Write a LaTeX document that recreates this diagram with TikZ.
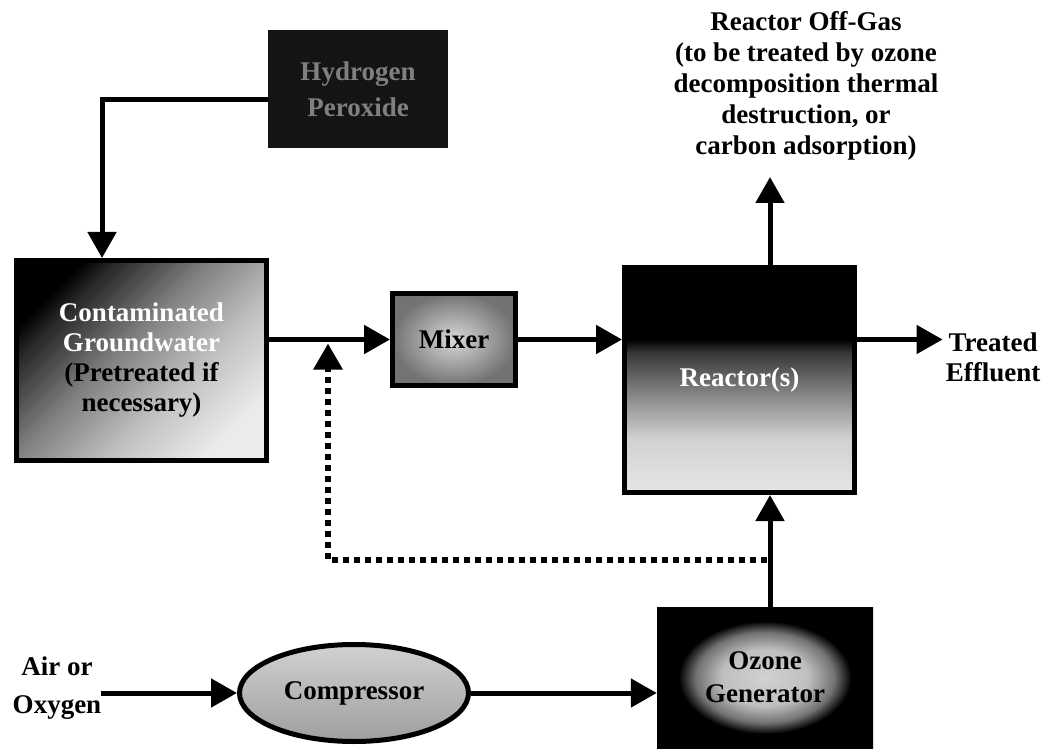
\documentclass[tikz,border=0pt]{standalone}
\usepackage{fontspec}
\setmainfont{Liberation Serif}
\usetikzlibrary{arrows.meta,shapes.geometric,calc}
\pgfdeclareverticalshading{reactorsh}{100bp}{color(0bp)=(black!10); color(25bp)=(black!10); color(37bp)=(black!18); color(46bp)=(black!45); color(56bp)=(black!78); color(59bp)=(black); color(100bp)=(black)}
\pgfdeclareradialshading{ozonesh}{\pgfpoint{0bp}{0bp}}{color(0bp)=(black!18); color(10bp)=(black!25); color(16bp)=(black!55); color(20bp)=(black); color(50bp)=(black)}
\pgfdeclareverticalshading{cgsh}{100bp}{color(0bp)=(black!8); color(25bp)=(black!8); color(40bp)=(black!25); color(55bp)=(black!50); color(70bp)=(black!85); color(75bp)=(black); color(100bp)=(black)}
\begin{document}
\begin{tikzpicture}[x=1pt,y=-1pt,
  every node/.style={font=\bfseries\fontsize{27}{30}\selectfont, align=center, inner sep=0pt},
  box/.style={draw=black, line width=5pt, rectangle},
  arr/.style={line width=5pt, -{Triangle[length=26pt,width=28pt]}},
  dotarr/.style={line width=6pt, dash pattern=on 6pt off 5pt, -{Triangle[length=26pt,width=28pt]}}]
\useasboundingbox (0,0) rectangle (1057,751);
% nodes
\node[fill=black!92, minimum width=180pt, minimum height=118pt, text=black!50] (hp) at (358,89) {Hydrogen\\[6pt]Peroxide};
\node[box, shading=cgsh, shading angle=45, minimum width=250pt, minimum height=200pt] (cg) at (141.5,360.5)
  {\textcolor{white}{Contaminated}\\\textcolor{white}{Groundwater}\\(Pretreated if\\necessary)};
\node[box, inner color=black!15, outer color=black!55, minimum width=123pt, minimum height=92pt] (mx) at (454,339.5) {Mixer};
\node[box, shading=reactorsh, minimum width=230pt, minimum height=225pt, text=white] (rx) at (739.5,380) {Reactor(s)};
\node[shading=ozonesh, minimum width=216pt, minimum height=141pt] (og) at (765,677.5) {Ozone\\[3pt]Generator};
\node[ellipse, draw=black, line width=5pt, top color=black!18, bottom color=black!38, minimum width=229pt, minimum height=97pt] (cp) at (354,693) {Compressor};
\node (air) at (57,688) {Air or\\[8pt]Oxygen};
\node (tr) at (993,357) {Treated\\Effluent};
\node[font=\bfseries\fontsize{27}{31}\selectfont] (gas) at (806,86) {Reactor Off-Gas\\(to be treated by ozone\\decomposition thermal\\destruction, or\\carbon adsorption)};
% coordinates
\coordinate (turn) at (102,100);
\coordinate (vx) at (770,0);
\coordinate (gastip) at (770,177);
\coordinate (dj) at (328,560);
% connectors
\draw[arr] (hp.west |- turn) -- (turn) -- (turn |- cg.north);
\draw[arr] (cg.east |- mx.west) -- (mx.west);
\draw[arr] (mx.east) -- (mx.east -| rx.west);
\draw[arr, shorten >=3pt] (rx.east |- mx.east) -- (tr.west |- mx.east);
\draw[arr] (rx.north -| vx) -- (gastip);
\draw[arr] (og.north -| vx) -- (rx.south -| vx);
\draw[dotarr, shorten >=4pt] ([xshift=-3pt]dj -| vx) -- (dj) -- (dj |- mx.west);
\draw[arr] (air.east |- cp.west) -- (cp.west);
\draw[arr] (cp.east) -- (cp.east -| og.west);
\end{tikzpicture}
\end{document}
